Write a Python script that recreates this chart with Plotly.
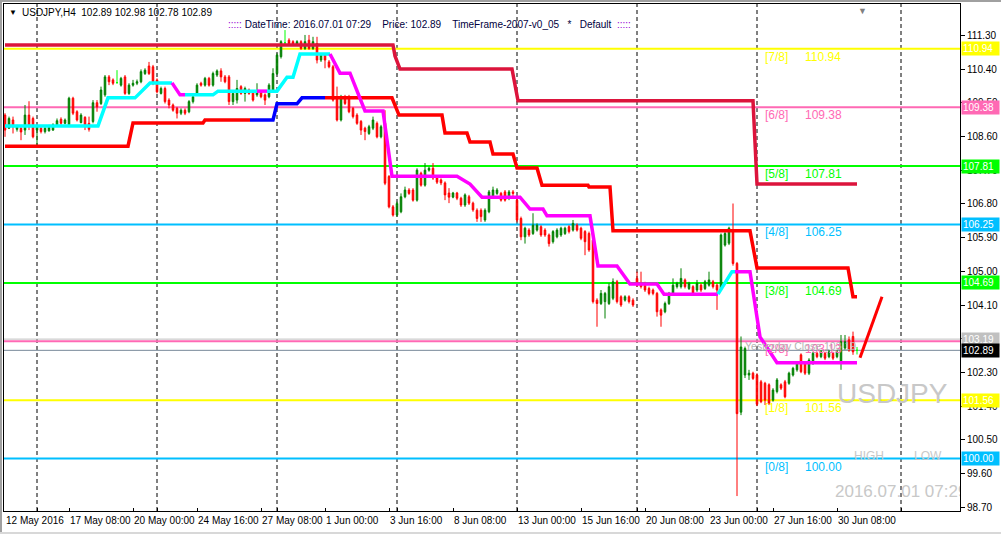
import plotly.graph_objects as go

# ---------------- data (H4 bars, index 0 = 12 May 2016 16:00) ----------------
opens = [
    109.17, 108.82, 109.04, 108.79, 108.82, 108.77, 109.17, 109.08, 108.77, 108.82,
    108.73, 108.75, 108.77, 108.91, 109.06, 108.95, 108.91, 109.62, 109.26, 108.97,
    109.11, 108.95, 109.00, 109.50, 109.48, 109.71, 110.19, 110.11, 110.04, 109.97,
    110.19, 109.75, 109.97, 110.02, 110.06, 110.28, 110.48, 110.46, 110.11, 109.75,
    109.88, 109.57, 109.44, 109.35, 109.22, 109.30, 109.26, 109.53, 109.75, 110.02,
    109.97, 110.15, 109.97, 110.24, 110.35, 110.19, 110.19, 109.53, 109.57, 109.93,
    109.75, 109.84, 109.79, 109.71, 109.79, 109.71, 109.66, 109.84, 110.28, 110.73,
    111.10, 111.17, 111.13, 111.07, 111.13, 110.95, 111.17, 110.95, 111.08, 110.64,
    110.77, 110.59, 110.46, 109.62, 109.04, 109.66, 109.66, 109.35, 109.17, 109.00,
    108.82, 108.68, 108.82, 108.95, 108.59, 108.95, 107.53, 106.72, 106.50, 106.59,
    106.99, 107.17, 107.17, 106.90, 107.62, 107.30, 107.70, 107.75, 107.49, 107.44,
    107.36, 107.09, 106.98, 107.09, 106.95, 106.77, 106.99, 106.82, 106.63, 106.63,
    106.37, 106.59, 106.99, 107.08, 107.08, 107.12, 106.95, 107.12, 106.90, 106.41,
    105.92, 106.10, 106.01, 106.10, 106.19, 106.10, 105.97, 105.79, 105.92, 105.97,
    106.01, 106.19, 106.10, 106.23, 106.15, 106.06, 106.01, 105.83, 104.23, 104.14,
    104.19, 104.14, 104.28, 104.72, 104.32, 104.23, 104.32, 104.23, 104.81, 104.68,
    104.63, 104.54, 104.50, 104.41, 103.97, 103.92, 104.14, 104.41, 104.59, 104.59,
    104.77, 104.54, 104.59, 104.50, 104.63, 104.54, 104.63, 104.72, 104.63, 104.54,
    105.70, 105.75, 106.10, 105.21, 101.24, 102.23, 102.23, 102.28, 102.23, 102.05,
    102.01, 101.97, 101.56, 101.79, 101.97, 102.05, 102.01, 102.23, 102.37, 102.77,
    102.54, 102.28, 102.54, 102.81, 102.72, 102.81, 102.72, 102.81, 102.72, 102.54,
    102.95, 103.17, 103.26, 102.89,
]
highs = [
    109.22, 109.13, 109.13, 108.91, 108.86, 109.44, 109.54, 109.13, 108.91, 108.86,
    108.86, 108.91, 108.95, 109.08, 109.11, 109.08, 109.66, 109.66, 109.30, 109.22,
    109.14, 109.13, 109.57, 109.57, 109.93, 110.24, 110.24, 110.15, 110.37, 110.19,
    110.24, 110.02, 110.11, 110.12, 110.39, 110.42, 110.59, 110.51, 110.15, 109.93,
    109.93, 109.62, 109.48, 109.39, 109.35, 109.35, 109.57, 109.71, 110.02, 110.06,
    110.19, 110.19, 110.33, 110.39, 110.42, 110.24, 110.24, 109.79, 110.11, 109.97,
    109.93, 109.88, 109.84, 110.02, 109.84, 109.75, 110.02, 110.42, 110.82, 111.17,
    111.44, 111.22, 111.17, 111.17, 111.17, 111.31, 111.31, 111.26, 111.26, 110.82,
    110.82, 110.64, 110.51, 109.93, 109.71, 109.71, 109.71, 109.39, 109.22, 109.04,
    108.86, 108.91, 109.13, 109.00, 108.91, 109.30, 107.57, 106.77, 106.86, 107.08,
    107.26, 107.22, 107.22, 107.75, 107.66, 107.89, 107.79, 107.89, 107.53, 107.48,
    107.40, 107.22, 107.12, 107.12, 106.99, 107.08, 107.04, 106.86, 106.68, 106.68,
    106.68, 107.17, 107.26, 107.22, 107.12, 107.17, 107.17, 107.17, 106.95, 106.46,
    106.19, 106.15, 106.55, 106.28, 106.23, 106.15, 106.01, 106.10, 106.15, 106.19,
    106.19, 106.23, 106.37, 106.28, 106.19, 106.10, 106.06, 105.88, 104.28, 104.50,
    104.45, 104.68, 104.81, 104.77, 104.36, 104.36, 104.36, 104.28, 104.99, 104.99,
    104.72, 104.59, 104.54, 104.45, 104.01, 104.19, 104.45, 104.81, 104.72, 105.08,
    104.81, 104.72, 104.63, 104.77, 104.68, 104.77, 104.99, 104.77, 104.68, 106.01,
    106.10, 106.19, 106.81, 105.25, 103.26, 102.99, 102.37, 102.32, 102.28, 102.10,
    102.05, 102.01, 101.88, 102.15, 102.01, 102.10, 102.32, 102.45, 102.59, 102.81,
    102.59, 102.68, 102.85, 102.85, 102.90, 102.85, 102.90, 102.85, 102.90, 103.30,
    103.30, 103.26, 103.39, 102.98,
]
lows = [
    108.59, 108.80, 108.68, 108.73, 108.50, 108.64, 108.77, 108.55, 108.37, 108.68,
    108.68, 108.73, 108.75, 108.86, 108.91, 108.92, 108.86, 109.17, 109.00, 108.95,
    108.77, 108.73, 108.95, 109.26, 109.44, 109.66, 109.97, 109.97, 110.00, 109.93,
    109.71, 109.71, 109.93, 109.97, 110.02, 110.24, 110.24, 109.97, 109.75, 109.72,
    109.48, 109.35, 109.26, 109.08, 109.17, 109.17, 109.22, 109.48, 109.71, 109.93,
    109.93, 109.93, 109.93, 110.19, 110.06, 110.02, 109.44, 109.44, 109.48, 109.71,
    109.53, 109.71, 109.53, 109.66, 109.62, 109.44, 109.62, 109.79, 110.24, 110.68,
    111.07, 111.04, 111.04, 111.04, 110.91, 110.91, 110.91, 110.91, 110.55, 110.59,
    110.42, 110.42, 109.53, 109.00, 109.00, 109.44, 109.22, 109.08, 108.91, 108.64,
    108.50, 108.64, 108.77, 108.55, 108.55, 107.30, 106.68, 106.46, 106.46, 106.55,
    106.95, 107.04, 106.86, 106.86, 107.26, 107.26, 107.66, 107.44, 107.33, 107.30,
    106.90, 106.82, 106.95, 106.90, 106.72, 106.72, 106.77, 106.59, 106.32, 106.32,
    106.32, 106.55, 106.95, 107.04, 106.86, 106.86, 106.90, 106.95, 106.32, 105.83,
    105.74, 105.92, 105.97, 106.06, 105.92, 105.92, 105.66, 105.74, 105.88, 105.92,
    105.97, 106.01, 106.06, 106.06, 105.83, 105.43, 105.52, 104.14, 103.52, 104.10,
    103.74, 104.10, 104.23, 104.14, 104.05, 104.19, 104.14, 104.05, 104.59, 104.54,
    104.45, 104.36, 104.36, 103.79, 103.52, 103.88, 104.10, 104.36, 104.54, 104.54,
    104.54, 104.50, 104.36, 104.45, 104.45, 104.50, 104.59, 104.54, 103.97, 104.50,
    105.66, 105.70, 105.15, 99.00, 101.16, 102.15, 102.10, 102.10, 101.40, 101.48,
    101.43, 101.43, 101.52, 101.74, 101.83, 101.61, 101.97, 102.19, 102.32, 102.28,
    102.23, 102.23, 102.50, 102.68, 102.68, 102.63, 102.68, 102.63, 102.68, 102.37,
    102.90, 102.85, 102.77, 102.78,
]
closes = [
    108.77, 109.08, 108.86, 108.88, 108.72, 109.17, 108.86, 108.59, 108.86, 108.73,
    108.82, 108.84, 108.91, 109.02, 108.95, 109.04, 109.62, 109.22, 109.04, 109.17,
    108.86, 108.79, 109.50, 109.39, 109.84, 110.19, 110.06, 110.02, 110.04, 110.15,
    109.75, 109.97, 110.02, 110.06, 110.33, 110.37, 110.28, 110.02, 109.79, 109.88,
    109.53, 109.44, 109.30, 109.22, 109.30, 109.22, 109.53, 109.66, 109.97, 109.97,
    110.15, 109.97, 110.28, 110.35, 110.19, 110.06, 109.53, 109.75, 109.88, 109.75,
    109.88, 109.75, 109.57, 109.79, 109.66, 109.57, 109.97, 110.28, 110.77, 111.13,
    111.10, 111.08, 111.07, 111.13, 110.95, 111.13, 110.95, 111.13, 110.64, 110.77,
    110.64, 110.46, 109.57, 109.04, 109.66, 109.48, 109.26, 109.13, 108.95, 108.77,
    108.73, 108.86, 109.04, 108.59, 108.86, 107.35, 106.72, 106.50, 106.81, 106.99,
    107.17, 107.08, 106.90, 107.70, 107.30, 107.70, 107.75, 107.49, 107.38, 107.36,
    107.04, 106.98, 107.09, 106.95, 106.77, 107.04, 106.82, 106.64, 106.41, 106.46,
    106.63, 107.12, 107.17, 107.17, 106.90, 106.90, 107.12, 107.08, 106.37, 105.92,
    106.15, 105.97, 106.23, 106.23, 105.97, 105.97, 105.74, 106.06, 106.10, 106.15,
    106.15, 106.06, 106.28, 106.10, 105.88, 105.79, 105.57, 104.19, 104.14, 104.41,
    104.41, 104.59, 104.72, 104.19, 104.10, 104.32, 104.19, 104.10, 104.63, 104.59,
    104.50, 104.41, 104.41, 103.92, 103.83, 104.14, 104.41, 104.63, 104.68, 104.81,
    104.59, 104.68, 104.41, 104.68, 104.50, 104.72, 104.77, 104.59, 104.50, 105.97,
    106.01, 106.15, 105.21, 101.20, 102.98, 102.94, 102.28, 102.14, 101.45, 101.52,
    101.56, 101.48, 101.83, 102.10, 101.88, 101.65, 102.28, 102.41, 102.54, 102.32,
    102.28, 102.63, 102.81, 102.72, 102.85, 102.68, 102.85, 102.68, 102.85, 103.12,
    103.12, 102.90, 102.85, 102.89,
]

# x-axis labels (bar index -> text) and weekly separators (bar index)
label_pos = [0, 16, 32, 48, 64, 80, 96, 112, 128, 144, 160, 176, 192, 208]
label_txt = ["12 May 2016", "17 May 08:00", "20 May 00:00", "24 May 16:00", "27 May 08:00",
             "1 Jun 00:00", "3 Jun 16:00", "8 Jun 08:00", "13 Jun 00:00", "15 Jun 16:00",
             "20 Jun 08:00", "23 Jun 00:00", "27 Jun 16:00", "30 Jun 08:00"]
separators = [8, 38, 68, 98, 128, 158, 188, 224]

# price-axis ticks
ytick_vals = [98.70, 99.60, 100.50, 101.40, 102.30, 103.20, 104.10, 105.00, 105.90,
              106.80, 107.70, 108.60, 109.50, 110.40, 111.30]

# Murrey math levels
mm_levels = [100.00, 101.56, 103.13, 104.69, 106.25, 107.81, 109.38, 110.94]
mm_names = ["[0/8]", "[1/8]", "[2/8]", "[3/8]", "[4/8]", "[5/8]", "[6/8]", "[7/8]"]
mm_texts = ["100.00", "101.56", "103.13", "104.69", "106.25", "107.81", "109.38", "110.94"]
mm_colors = ["#00BFFF", "#FFFF00", "#FF69B4", "#00FF00", "#00BFFF", "#00FF00", "#FF69B4", "#FFFF00"]

yclose = 103.19
bid = 102.89

# price labels on the right axis
box_vals = [110.94, 109.38, 107.81, 106.25, 104.69, 103.19, 102.89, 101.56, 100.00]
box_colors = ["#FFFF00", "#FF69B4", "#00FF00", "#00BFFF", "#00FF00", "#C0C0C0", "#000000", "#FFFF00", "#00BFFF"]

# indicator lines (bar index, price)
crimson_x = [0, 97, 97.5, 98.75, 126.75, 128.25, 187, 188, 213]
crimson_y = [111.04, 111.04, 110.75, 110.40, 110.40, 109.55, 109.55, 107.33, 107.33]

red_a_x = [0, 30.75, 32, 49.5, 50, 61.25]
red_a_y = [108.34, 108.34, 108.96, 108.96, 109.04, 109.04]
blue_x = [61.25, 67, 68, 73, 74.25, 80]
blue_y = [109.04, 109.04, 109.47, 109.47, 109.63, 109.63]
red_b_x = [80, 96.75, 98.5, 109.25, 110, 115.5, 116.25, 121.25, 122, 127, 128, 133, 134.25,
           145.75, 146, 151.25, 152, 186.25, 188, 210.75, 212, 213]
red_b_y = [109.63, 109.63, 109.17, 109.17, 108.69, 108.69, 108.45, 108.45, 108.13, 108.13,
           107.76, 107.76, 107.30, 107.30, 107.25, 107.25, 106.08, 106.08, 105.09, 105.09,
           104.32, 104.32]
proj_x = [213.75, 219.25]
proj_y = [102.69, 104.32]

cyan1_x = [0, 23.25, 25.75, 32.5, 36.25, 41.75]
cyan1_y = [108.88, 108.88, 109.63, 109.63, 110.03, 110.03]
mag1_x = [41.75, 43.75, 45]
mag1_y = [110.03, 109.71, 109.71]
cyan2_x = [45, 52, 53.25, 63]
cyan2_y = [109.71, 109.71, 109.81, 109.81]
mag2_x = [63, 65.5]
mag2_y = [109.81, 109.81]
cyan3_x = [65.5, 68, 70.5, 72, 73.75, 81.25]
cyan3_y = [109.81, 109.81, 110.18, 110.18, 110.80, 110.80]
mag3_x = [81.25, 83.75, 86.25, 90, 94.5, 96.75, 113, 116.25, 119.25, 128.75, 131.25, 134.5,
          135.5, 146.25, 148.25, 153, 156.25, 163, 164.75, 178.25]
mag3_y = [110.80, 110.29, 110.29, 109.28, 109.28, 107.54, 107.54, 107.33, 106.98, 106.98,
          106.66, 106.66, 106.48, 106.48, 105.14, 105.14, 104.66, 104.66, 104.39, 104.39]
cyan4_x = [178.25, 181.75, 182.5]
cyan4_y = [104.39, 104.99, 104.99]
mag4_x = [182.5, 186.25, 188.75, 193, 213]
mag4_y = [104.99, 104.99, 103.25, 102.56, 102.56]

# ---------------- figure ----------------
W, H = 1001, 534
L, R, T, B = 4, 41, 4, 23
PW, PH = W - L - R, H - T - B


def px(xp):
    return (xp - L) / PW


def py(yp):
    return (H - B - yp) / PH


FONT = "Liberation Sans, Arial, sans-serif"
idx = list(range(len(opens)))
normal = [i for i in idx if opens[i] != closes[i]]
doji = [i for i in idx if opens[i] == closes[i]]

fig = go.Figure()
fig.add_trace(go.Candlestick(
    x=normal, open=[opens[i] for i in normal], high=[highs[i] for i in normal],
    low=[lows[i] for i in normal], close=[closes[i] for i in normal],
    increasing=dict(line=dict(color="#008000", width=1), fillcolor="#008000"),
    decreasing=dict(line=dict(color="#FF0000", width=1), fillcolor="#FF0000"),
    whiskerwidth=0, hoverinfo="skip", showlegend=False))
fig.add_trace(go.Candlestick(
    x=doji, open=[opens[i] for i in doji], high=[highs[i] for i in doji],
    low=[lows[i] for i in doji], close=[closes[i] for i in doji],
    increasing=dict(line=dict(color="#00FF00", width=1), fillcolor="#00FF00"),
    decreasing=dict(line=dict(color="#00FF00", width=1), fillcolor="#00FF00"),
    whiskerwidth=0, hoverinfo="skip", showlegend=False))


def add_line(xs, ys, color, width):
    fig.add_trace(go.Scatter(x=xs, y=ys, mode="lines", line=dict(color=color, width=width),
                             hoverinfo="skip", showlegend=False))


add_line(crimson_x, crimson_y, "#DC143C", 3.5)
add_line(red_a_x, red_a_y, "#FF0000", 3.5)
add_line(blue_x, blue_y, "#0000FF", 3.5)
add_line(red_b_x, red_b_y, "#FF0000", 3.5)
add_line(proj_x, proj_y, "#FF0000", 3)
for xs, ys, c in [(cyan1_x, cyan1_y, "#00FFFF"), (mag1_x, mag1_y, "#FF00FF"),
                  (cyan2_x, cyan2_y, "#00FFFF"), (mag2_x, mag2_y, "#FF00FF"),
                  (cyan3_x, cyan3_y, "#00FFFF"), (mag3_x, mag3_y, "#FF00FF"),
                  (cyan4_x, cyan4_y, "#00FFFF"), (mag4_x, mag4_y, "#FF00FF")]:
    add_line(xs, ys, c, 3.5)

# clipped time stamp text
fig.add_trace(go.Scatter(x=[207.5], y=[99.08], mode="text", text=["2016.07.01 07:29"],
                         textposition="middle right", cliponaxis=True,
                         textfont=dict(family=FONT, size=17, color="#C8C8C8"),
                         hoverinfo="skip", showlegend=False))

shapes = []
for s in separators:
    shapes.append(dict(type="line", xref="x", yref="paper", x0=s, x1=s, y0=0, y1=1,
                       line=dict(color="black", width=1, dash="4px,3px"), layer="below"))
shapes.append(dict(type="line", xref="paper", yref="y", x0=0, x1=1, y0=yclose, y1=yclose,
                   line=dict(color="#C0C0C0", width=1), layer="below"))
for lv, c in zip(mm_levels, mm_colors):
    shapes.append(dict(type="line", xref="paper", yref="y", x0=0, x1=1, y0=lv, y1=lv,
                       line=dict(color=c, width=2), layer="below"))
shapes.append(dict(type="line", xref="paper", yref="y", x0=0, x1=1, y0=bid, y1=bid,
                   line=dict(color="#778899", width=1), layer="below"))
# outer window frame
shapes.append(dict(type="rect", xref="paper", yref="paper", x0=px(0), x1=px(2), y0=py(H), y1=py(0),
                   fillcolor="#A0A0A0", line=dict(width=0)))
shapes.append(dict(type="rect", xref="paper", yref="paper", x0=px(0), x1=px(W), y0=py(2), y1=py(0),
                   fillcolor="#A0A0A0", line=dict(width=0)))
shapes.append(dict(type="rect", xref="paper", yref="paper", x0=px(0), x1=px(W), y0=py(H), y1=py(H - 2),
                   fillcolor="#D8D8D8", line=dict(width=0)))

ann = []
for nm, tx, lv, c in zip(mm_names, mm_texts, mm_levels, mm_colors):
    ann.append(dict(x=189.5, y=lv, xref="x", yref="y", text=nm, showarrow=False, xanchor="left",
                    yanchor="middle", yshift=-8, font=dict(family=FONT, size=12, color=c)))
    ann.append(dict(x=199.5, y=lv, xref="x", yref="y", text=tx, showarrow=False, xanchor="left",
                    yanchor="middle", yshift=-8, font=dict(family=FONT, size=12, color=c)))
ann.append(dict(x=px(743), y=py(346), xref="paper", yref="paper", text="Yesterday Close 103.19",
                showarrow=False, xanchor="left", yanchor="middle",
                font=dict(family=FONT, size=10.5, color="#B4B4B4")))
for v, c in zip(box_vals, box_colors):
    ann.append(dict(x=1, y=v, xref="paper", yref="y", text=f"{v:.2f}", showarrow=False,
                    xanchor="left", yanchor="middle", align="left", width=35, bgcolor=c,
                    borderpad=1, xshift=1, font=dict(family=FONT, size=10, color="white")))
ann.append(dict(x=px(7), y=py(13), xref="paper", yref="paper", text="▼", showarrow=False,
                xanchor="left", yanchor="middle", font=dict(family=FONT, size=8, color="black")))
ann.append(dict(x=px(20), y=py(13), xref="paper", yref="paper",
                text="USDJPY,H4\u00a0\u00a0102.89 102.98 102.78 102.89", showarrow=False,
                xanchor="left", yanchor="middle", font=dict(family=FONT, size=10, color="black")))
ann.append(dict(x=px(226), y=py(25), xref="paper", yref="paper",
                text="<span style='color:#9400D3'>:::::</span> DateTime: 2016.07.01 07:29\u00a0\u00a0\u00a0\u00a0Price: 102.89"
                     "\u00a0\u00a0\u00a0\u00a0TimeFrame-2007-v0_05\u00a0\u00a0\u00a0*\u00a0\u00a0\u00a0Default\u00a0\u00a0"
                     "<span style='color:#9400D3'>:::::</span>",
                showarrow=False, xanchor="left", yanchor="middle",
                font=dict(family=FONT, size=10, color="#000040")))
ann.append(dict(x=px(862), y=py(4), xref="paper", yref="paper", text="▼", showarrow=False,
                xanchor="center", yanchor="top", font=dict(family=FONT, size=9, color="#808080")))
ann.append(dict(x=px(892), y=py(394), xref="paper", yref="paper", text="USDJPY", showarrow=False,
                xanchor="center", yanchor="middle", font=dict(family=FONT, size=28, color="#C8C8C8")))
ann.append(dict(x=px(869), y=py(456), xref="paper", yref="paper", text="HIGH", showarrow=False,
                xanchor="center", yanchor="middle", font=dict(family=FONT, size=12, color="#C8C8C8")))
ann.append(dict(x=px(928), y=py(456), xref="paper", yref="paper", text="LOW", showarrow=False,
                xanchor="center", yanchor="middle", font=dict(family=FONT, size=12, color="#C8C8C8")))

tickvals = sorted(label_pos + separators)
ticktext = [label_txt[label_pos.index(v)] if v in label_pos else "" for v in tickvals]

fig.update_layout(
    width=W, height=H, margin=dict(l=L, r=R, t=T, b=B, autoexpand=False),
    paper_bgcolor="white", plot_bgcolor="white",
    shapes=shapes, annotations=ann, showlegend=False, boxgap=0.45,
    font=dict(family=FONT, size=10, color="black"),
    xaxis=dict(range=[-0.25, 238.75], showgrid=False, zeroline=False, rangeslider=dict(visible=False),
               tickvals=tickvals, ticktext=ticktext, ticks="inside", ticklen=3, tickcolor="black",
               tickangle=0, automargin=False,
               ticklabelposition="outside right", showline=True, linecolor="black", linewidth=1,
               mirror=True, tickfont=dict(family=FONT, size=10, color="black")),
    yaxis=dict(range=[98.601, 112.136], side="right", showgrid=False, zeroline=False,
               tickvals=ytick_vals, ticktext=[f"{v:.2f}" for v in ytick_vals], ticks="outside",
               ticklen=4, tickcolor="black", showline=True, linecolor="black", linewidth=1,
               automargin=False,
               mirror=True, tickfont=dict(family=FONT, size=10, color="black")),
)

fig.write_html("out.html", config={"displayModeBar": False, "staticPlot": True},
               post_script="document.body.style.margin='0px';document.body.style.overflow='hidden';")
